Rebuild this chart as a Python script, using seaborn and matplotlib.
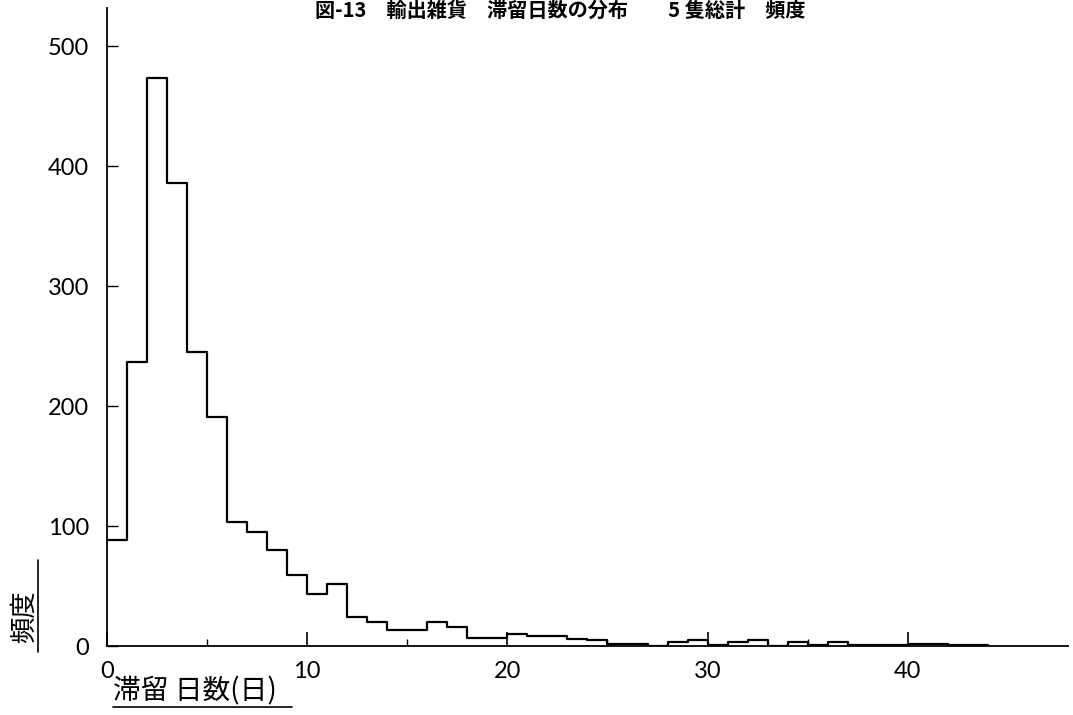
import numpy as np
import matplotlib
matplotlib.use("Agg")
import matplotlib.pyplot as plt
import seaborn as sns
from matplotlib.lines import Line2D

# Data: frequency per day of stay (bin edges 0..44 days)
bin_edges = list(range(0, 45))
counts = [88, 237, 474, 386, 245, 191, 103, 95, 80, 59,
          43, 52, 24, 20, 13, 13, 20, 16, 7, 7,
          10, 8, 8, 6, 5, 2, 2, 0, 3, 5,
          1, 3, 5, 0, 3, 1, 3, 1, 1, 1,
          2, 2, 1, 1]
day_centers = [e + 0.5 for e in bin_edges[:-1]]

x_ticks = [0, 10, 20, 30, 40]
y_ticks = [0, 100, 200, 300, 400, 500]

title = "図-13　輸出雑貨　滞留日数の分布　　5 隻総計　頻度"
xlabel = "滞留 日数(日)"
ylabel = "頻度"

sns.set_theme(style="white")
plt.rcParams["font.family"] = ["Noto Sans CJK JP", "DejaVu Sans"]

fig = plt.figure(figsize=(10.73, 7.15), dpi=100)
ax = fig.add_axes([0.0997, 0.0965, 0.8956, 0.8923])

sns.histplot(x=day_centers, weights=counts, bins=bin_edges, element="step",
             fill=False, color="black", linewidth=1.6, ax=ax)

ax.set_xlim(0, 48)
ax.set_ylim(0, 532)
ax.set_xticks(x_ticks)
ax.set_xticks([5, 15, 25, 35], minor=True)
ax.set_yticks(y_ticks)
ax.set_xlabel("")
ax.set_ylabel("")

for s in ["top", "right"]:
    ax.spines[s].set_visible(False)
for s in ["left", "bottom"]:
    ax.spines[s].set_color("black")
    ax.spines[s].set_linewidth(1.3)

tick_font = dict(family=["Lato", "DejaVu Sans"], weight="normal", size=17,
                 color="black")
ax.tick_params(axis="x", which="major", direction="in", length=10, width=1.2,
               color="black", pad=11, bottom=True)
ax.tick_params(axis="x", which="minor", direction="in", length=5, width=1.0,
               color="black", bottom=True)
ax.tick_params(axis="y", which="major", direction="in", length=8, width=1.0,
               color="black", pad=13, left=True)
ax.set_xticklabels([str(t) for t in x_ticks], fontdict=tick_font)
ax.set_yticklabels([str(t) for t in y_ticks], fontdict=tick_font)

fig.text(0.522, 0.985, title, ha="center", va="center", fontsize=14.5,
         fontweight="bold", color="black")

fig.text(0.105, 0.0336, xlabel, ha="left", va="center", fontsize=20,
         color="black")
fig.add_artist(Line2D([0.105, 0.272], [0.0112, 0.0112], color="black",
                      linewidth=1.2, transform=fig.transFigure))

fig.text(0.0225, 0.138, ylabel, ha="center", va="center", rotation=90,
         fontsize=19, color="black")
fig.add_artist(Line2D([0.0354, 0.0354], [0.088, 0.217], color="black",
                      linewidth=1.2, transform=fig.transFigure))

fig.savefig("out.png", dpi=100, facecolor="white")
